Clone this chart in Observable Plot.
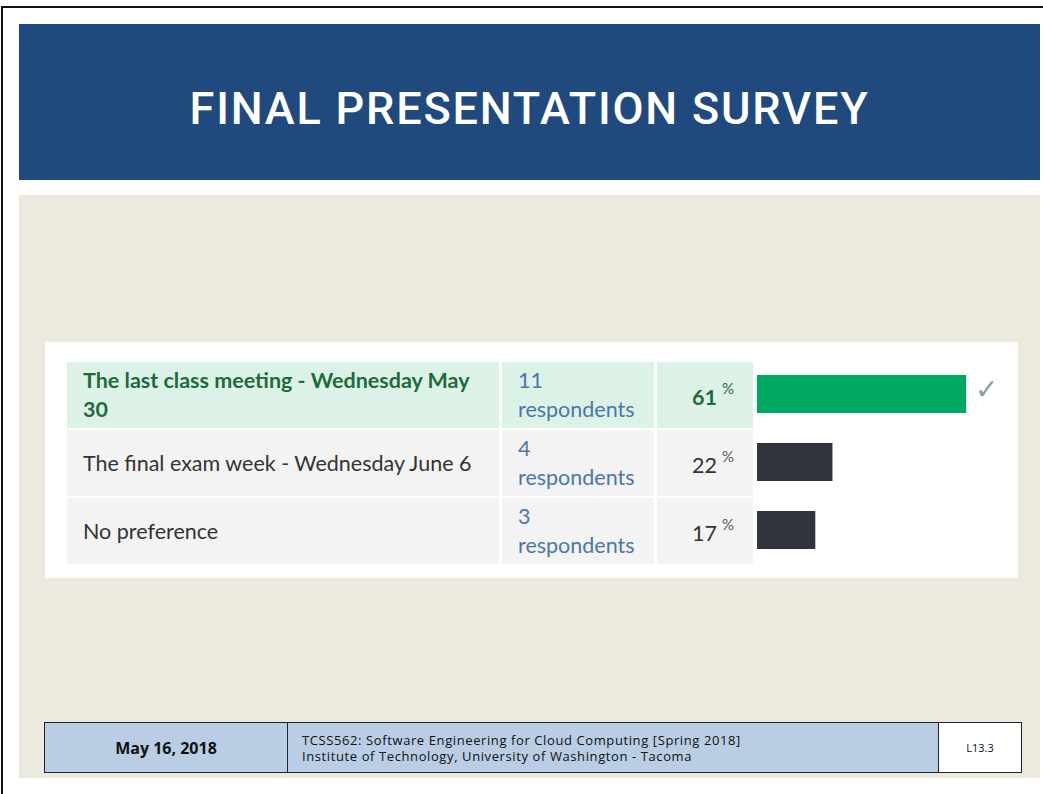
<!DOCTYPE html>
<html>
<head>
<meta charset="utf-8">
<script src="https://cdn.jsdelivr.net/npm/d3@7"></script>
<script src="https://cdn.jsdelivr.net/npm/@observablehq/plot@0.6"></script>
<style>
  html, body { margin: 0; padding: 0; background: #ffffff; }
  body { width: 1043px; height: 794px; position: relative; overflow: hidden; font-family: Lato, "Open Sans", sans-serif; }
  .frame { position: absolute; left: 1px; top: 6px; width: 1100px; height: 900px; border-left: 2px solid #111; border-top: 2px solid #111; }
  .header { position: absolute; left: 19px; top: 24px; width: 1021px; height: 156px; background: #204a7e; }
  .title { position: absolute; left: 0; top: 0; width: 100%; height: 100%; display: flex; align-items: center; justify-content: center;
           color: #fff; font-family: Roboto, "DejaVu Sans", sans-serif; font-weight: 500; font-size: 45px; letter-spacing: 1.8px; padding-top: 12px; box-sizing: border-box; }
  .beige { position: absolute; left: 19px; top: 195px; width: 1021px; height: 583px; background: #ece9df; }
  .panel { position: absolute; left: 45px; top: 342px; width: 973px; height: 236px; background: #ffffff; }
  .tbl { position: absolute; left: 67px; top: 362px; display: grid; grid-template-columns: 432px 152px 96px; grid-auto-rows: 66px; column-gap: 3px; row-gap: 2px; }
  .cell { background: #f3f3f3; display: flex; flex-direction: column; justify-content: center; font-size: 21.5px; line-height: 29px; color: #333; box-sizing: border-box; }
  .cell.c1 { padding-left: 16px; padding-right: 10px; }
  .cell.c2 { padding-left: 16px; color: #4a77ad; }
  .cell.c3 { align-items: flex-end; padding-right: 19px; }
  .row-correct { background: #ddf2e6; }
  .row-correct.c1, .row-correct.c3 { color: #1d6b3b; font-weight: bold; }
  .pct sup { font-size: 15px; font-weight: normal; margin-left: 5px; position: relative; top: -3px; color: #555; }
  .row-correct .pct sup { color: #1d6b3b; }
  .plotwrap { position: absolute; left: 757px; top: 360px; }
  .footer { position: absolute; left: 44px; top: 722px; width: 978px; height: 51px; border: 1.5px solid #222; box-sizing: border-box; display: flex; background: #b9cde4; }
  .f1 { width: 242px; border-right: 1.5px solid #222; display: flex; align-items: center; justify-content: center; font-family: "Open Sans", sans-serif; font-weight: bold; font-size: 16px; color: #111; }
  .f2 { width: 651px; border-right: 1.5px solid #222; padding-left: 14px; display: flex; flex-direction: column; justify-content: center; font-family: "Open Sans", sans-serif; font-size: 13px; line-height: 16px; letter-spacing: 0.6px; color: #111; box-sizing: border-box; }
  .f3 { flex: 1; background: #fff; display: flex; align-items: center; justify-content: center; font-family: "Open Sans", sans-serif; font-size: 11px; color: #111; }
</style>
</head>
<body>
<div class="frame"></div>
<div class="header"><div class="title" id="title"></div></div>
<div class="beige"></div>
<div class="panel"></div>
<div class="tbl" id="tbl"></div>
<div class="plotwrap" id="plot"></div>
<div class="footer">
  <div class="f1" id="fdate"></div>
  <div class="f2" id="fcourse"></div>
  <div class="f3" id="fslide"></div>
</div>
<script>
// ---- data ----
const titleText = "FINAL PRESENTATION SURVEY";
const answers = [
  "The last class meeting - Wednesday May 30",
  "The final exam week - Wednesday June 6",
  "No preference"
];
const respondents = [11, 4, 3];
const percents = [61, 22, 17];
const correctAnswer = "The last class meeting - Wednesday May 30";
const footerDate = "May 16, 2018";
const footerCourse = ["TCSS562: Software Engineering for Cloud Computing [Spring 2018]", "Institute of Technology, University of Washington - Tacoma"];
const footerSlide = "L13.3";

const data = answers.map((a, i) => ({answer: a, respondents: respondents[i], percent: percents[i], correct: a === correctAnswer}));

// ---- text parts ----
document.getElementById("title").textContent = titleText;
document.getElementById("fdate").textContent = footerDate;
const fc = document.getElementById("fcourse");
footerCourse.forEach(t => { const d = document.createElement("div"); d.textContent = t; fc.appendChild(d); });
document.getElementById("fslide").textContent = footerSlide;

const tbl = document.getElementById("tbl");
data.forEach(d => {
  const extra = d.correct ? " row-correct" : "";
  const c1 = document.createElement("div"); c1.className = "cell c1" + extra; c1.textContent = d.answer;
  const c2 = document.createElement("div"); c2.className = "cell c2" + extra;
  const n = document.createElement("div"); n.textContent = d.respondents;
  const r = document.createElement("div"); r.textContent = "respondents";
  c2.appendChild(n); c2.appendChild(r);
  const c3 = document.createElement("div"); c3.className = "cell c3" + extra;
  const p = document.createElement("div"); p.className = "pct";
  p.appendChild(document.createTextNode(d.percent));
  const s = document.createElement("sup"); s.textContent = "%"; p.appendChild(s);
  c3.appendChild(p);
  tbl.appendChild(c1); tbl.appendChild(c2); tbl.appendChild(c3);
});

// ---- bars via Plot ----
const chart = Plot.plot({
  width: 261,
  height: 204,
  margin: 0,
  style: {background: "transparent", overflow: "visible"},
  x: {domain: [0, 100], range: [0, 343], axis: null},
  y: {domain: answers, axis: null, paddingInner: 0.44, paddingOuter: 0.22, align: 0.5},
  marks: [
    Plot.barX(data, {x: "percent", y: "answer", fill: d => d.correct ? "#00a862" : "#30343b"}),
    Plot.text(data.filter(d => d.correct), {x: "percent", y: "answer", text: () => "\u2713", dx: 20, dy: -4,
      fontSize: 28, fill: "#86a593", fontFamily: "DejaVu Sans", textAnchor: "middle", fontWeight: "normal"})
  ]
});
document.getElementById("plot").appendChild(chart);
</script>
</body>
</html>
